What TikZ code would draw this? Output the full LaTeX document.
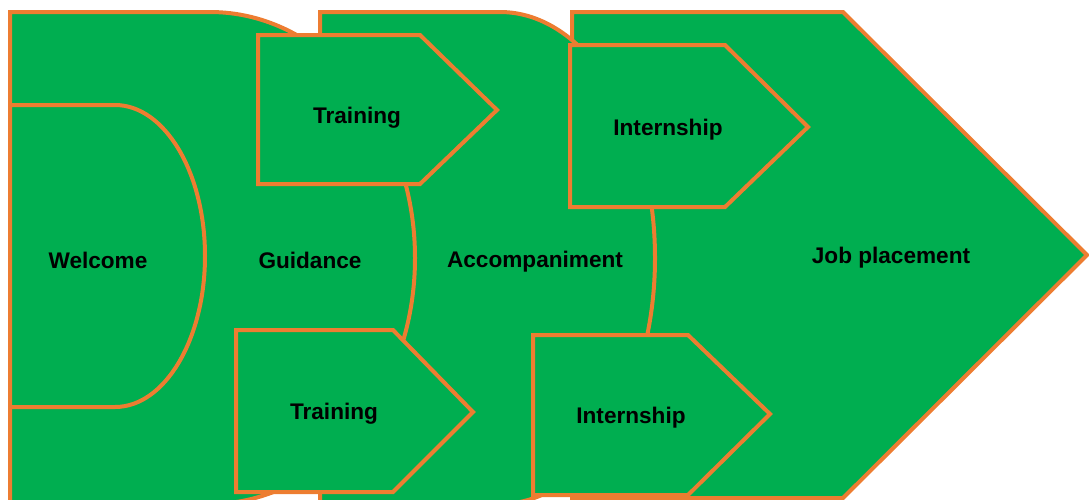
\documentclass[tikz,border=0pt]{standalone}
\usepackage{fontspec}
\setmainfont{Liberation Sans}
\definecolor{stagegreen}{HTML}{00AE50}
\definecolor{stageorange}{HTML}{ED7D31}
\tikzset{
  stage/.style={fill=stagegreen, draw=stageorange, line width=4pt, line join=miter},
  lbl/.style={font=\fontsize{22.6}{26}\selectfont\bfseries, text=black, inner sep=0pt}
}
\begin{document}
\begin{tikzpicture}[x=1pt,y=-1pt]
\useasboundingbox (0,0) rectangle (1089,499);
\clip (0,0) rectangle (1089,499);
% back: job placement
\path[stage] (572,12) -- (843,12) -- (1087,255) -- (843,498) -- (572,498) -- cycle;
% accompaniment
\path[stage] (320,12) -- (500,12) .. controls (585.6,12) and (655,122.1) .. (655,258)
  .. controls (655,393.9) and (585.6,504) .. (500,504) -- (320,504) -- cycle;
% guidance
\path[stage] (10,12) -- (210,12) .. controls (323.2,12) and (415,122.1) .. (415,258)
  .. controls (415,393.9) and (323.2,504) .. (210,504) -- (10,504) -- cycle;
% welcome
\path[stage] (10,105) -- (115,105) .. controls (164.7,105) and (205,172.6) .. (205,256)
  .. controls (205,339.4) and (164.7,407) .. (115,407) -- (10,407) -- cycle;
% trainings
\path[stage] (258,35) -- (420,35) -- (497,110) -- (420,184) -- (258,184) -- cycle;
\path[stage] (236,330) -- (393,330) -- (473,412) -- (393,492) -- (236,492) -- cycle;
% internships
\path[stage] (570,45) -- (725,45) -- (808,127) -- (725,207) -- (570,207) -- cycle;
\path[stage] (533,335) -- (688,335) -- (770,414) -- (688,495) -- (533,495) -- cycle;
% labels
\node[lbl] (welcome) at (98,260) {Welcome};
\node[lbl] (guidance) at (310,260) {Guidance};
\node[lbl] (accomp) at (535,262) {Accompaniment};
\node[lbl] (train1) at (357,118) {Training};
\node[lbl] (train2) at (334,414) {Training};
\node[lbl] (intern1) at (668,130) {Internship};
\node[lbl] (intern2) at (631,418) {Internship};
\node[lbl] (job) at (891,258) {Job placement};
\end{tikzpicture}
\end{document}
